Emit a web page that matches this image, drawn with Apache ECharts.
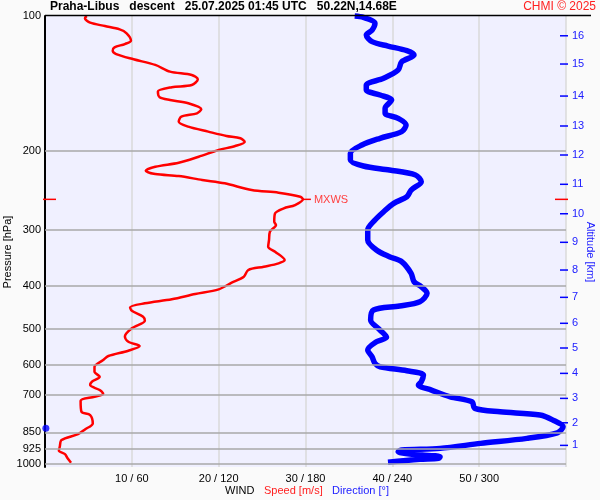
<!DOCTYPE html>
<html>
<head>
<meta charset="utf-8">
<script src="https://cdn.jsdelivr.net/npm/echarts@6/dist/echarts.min.js"></script>
<style>html,body{margin:0;padding:0;background:#fafafa;}#c{width:600px;height:500px;}</style>
</head>
<body>
<div id="c"></div>
<script>
// ---- data ----
const pressureLevels = [100, 200, 300, 400, 500, 600, 700, 850, 925, 1000];
const speedTicks = [10, 20, 30, 40, 50];
const altKm = [1, 2, 3, 4, 5, 6, 7, 8, 9, 10, 11, 12, 13, 14, 15, 16];
const altPressure = [908.7, 809.1, 713.7, 627.6, 550.9, 485.2, 424.6, 369.0, 320.0, 276.3, 237.5, 204.3, 176.0, 150.9, 128.0, 110.7];

const speedPressure = [100,101.2,103.5,105.3,107.1,109.3,113.5,115.5,117.5,119.5,
121.6,124.9,128.6,133.1,135.4,138.4,142.6,144.2,147.5,151.8,
154.0,156.6,161.5,164.9,167.8,172.2,176.6,181.2,185.3,187.5,
191.1,195.1,199.1,206.1,212.6,217.0,221.5,225.3,227.6,232.3,
236.3,244.6,248.0,253.2,256.6,264.2,268.7,275.7,287.9,292.8,
303.0,316.2,327.3,335.9,350.5,356.5,362.8,369.0,381.9,393.9,
407.5,417.4,428.9,437.9,446.9,454.8,469.1,478.8,497.9,519.8,
533.4,545.2,558.6,574.0,586.1,606.7,622.5,638.7,655.3,666.5,
683.9,698.1,707.9,722.6,764.6,777.7,811.6,837.0,857.5,884.3,
915.3,934.3,950.3,971.1,993.3];
const speed = [4.8,4.6,5.2,6.9,8.6,9.4,9.9,9.2,8.0,7.8,
8.2,10.2,12.7,14.4,16.9,17.6,16.9,14.6,13.0,13.2,
14.4,16.5,18.0,17.5,15.7,15.4,16.5,18.8,20.9,22.5,
23.0,21.9,20.0,17.7,15.4,12.7,11.6,12.7,15.4,18.1,
20.7,23.8,26.9,29.4,29.7,28.8,27.5,26.5,26.4,26.6,
25.9,25.8,25.7,26.5,27.6,26.9,25.2,23.4,22.9,21.5,
20.0,17.3,14.6,11.5,9.8,10.0,11.3,11.5,10.0,9.2,
9.6,10.9,9.6,7.3,6.7,5.7,5.7,6.3,5.4,5.2,
6.3,6.7,5.7,4.1,4.2,5.2,5.5,4.6,3.8,1.9,
1.7,1.6,2.3,2.6,3.0];

const dirPressure = [100,100.7,103.8,107.5,110.3,114.1,116.7,119.5,122.2,126.5,
132.0,137.7,142.6,146.3,150.1,154.0,160.7,164.9,169.2,175.1,
181.2,187.5,194.1,202.5,209.6,216.2,220.7,226.4,234.3,244.6,
253.2,261.9,273.4,285.4,300.4,316.2,332.9,344.6,353.6,375.3,
391.9,402.1,415.9,434.3,444.0,453.2,477.1,502.3,521.4,533.4,
556.6,576.3,596.2,606.7,619.3,633.1,655.3,666.5,683.9,707.9,
726.3,751.4,764.6,777.7,798.0,825.9,851.7,876.6,899.4,922.8,
930.6,938.7,950.3,963.2,971.1,976.1,991.3];
const direction = [214,220,228,226,222,226,237,250,255,246.5,
244,234,222,222,231.5,239.5,235,235,244,249.5,
246.5,231.5,219,211,211,220,238,256,260,253,
250,241,234,228,223,223,229,238,246.5,253,
255,260,264,259,245,227,225,231.5,236,229,
223,226,228,231.5,250,261.5,260,258,267,280,
295,297,314.5,342,351,358,354,333,301,273,
246.5,244,252,273,272,259,237];

const markerPoint = [0.1, 832]; // blue dot at left edge [speed, hPa]

// ---- build ----
const FONT = 'Liberation Sans, Arial, sans-serif';
const speedData = speed.map((s, i) => [s, speedPressure[i]]);
const dirData = direction.map((d, i) => [d, dirPressure[i]]);
let mi = 0;
speed.forEach((s, i) => { if (s > speed[mi]) mi = i; });
const maxWind = [[speed[mi], speedPressure[mi]]];

const chart = echarts.init(document.getElementById('c'), null, {renderer: 'canvas'});
chart.setOption({
  animation: false,
  backgroundColor: '#fafafa',
  title: [{
    text: 'Praha-Libus   descent   25.07.2025 01:45 UTC   50.22N,14.68E',
    left: 50, top: 1, padding: 0,
    textStyle: {fontFamily: FONT, fontSize: 12, fontWeight: 'bold', color: '#000'}
  }, {
    text: 'CHMI © 2025', right: 4, top: 1, padding: 0,
    textStyle: {fontFamily: FONT, fontSize: 12, fontWeight: 'normal', color: '#ff2020'}
  }],
  grid: {left: 45, right: 34, top: 16, bottom: 33, show: true, backgroundColor: '#f0f0ff', borderWidth: 0,
    containLabel: false, outerBoundsMode: 'none'},
  xAxis: [{
    type: 'value', min: 0, max: 60, interval: 10,
    axisLine: {show: false}, axisTick: {show: false},
    splitLine: {show: true, lineStyle: {color: '#dadada', width: 1.5}},
    axisLabel: {fontFamily: FONT, fontSize: 11, color: '#000', margin: 6,
      formatter: v => speedTicks.indexOf(v) >= 0 ? v + ' / ' + v * 6 : ''}
  }, {
    type: 'value', min: 0, max: 360, show: false
  }],
  yAxis: [{
    type: 'log', logBase: 10, min: 100, max: 1015.5, inverse: true,
    axisLine: {show: true, lineStyle: {color: '#000', width: 2}},
    axisTick: {show: false}, axisLabel: {show: false}, splitLine: {show: false}
  }],
  graphic: [
    {type: 'line', shape: {x1: 45, y1: 15.5, x2: 591, y2: 15.5}, style: {stroke: '#000', lineWidth: 1.5}, z: 100},
    {type: 'text', x: 8, y: 252, rotation: Math.PI / 2,
      style: {text: 'Pressure [hPa]', fill: '#000', font: '11px ' + FONT, textAlign: 'center', textVerticalAlign: 'middle'}},
    {type: 'text', x: 590, y: 252, rotation: -Math.PI / 2,
      style: {text: 'Altitude [km]', fill: '#2020ff', font: '11px ' + FONT, textAlign: 'center', textVerticalAlign: 'middle'}},
    {type: 'text', x: 225, y: 491, style: {text: 'WIND', fill: '#000', font: '11px ' + FONT, textVerticalAlign: 'middle'}},
    {type: 'text', x: 264, y: 491, style: {text: 'Speed [m/s]', fill: '#ff2020', font: '11px ' + FONT, textVerticalAlign: 'middle'}},
    {type: 'text', x: 332, y: 491, style: {text: 'Direction [°]', fill: '#2020ff', font: '11px ' + FONT, textVerticalAlign: 'middle'}}
  ],
  series: [
    {
      type: 'line', data: [], z: 1, silent: true,
      markLine: {
        silent: true, symbol: ['none', 'none'], animation: false,
        data: pressureLevels.map(p => ({
          yAxis: p,
          lineStyle: {color: p === 100 ? 'rgba(0,0,0,0)' : '#a8a8a8', width: 1.5, type: 'solid'},
          label: {show: true, position: 'start', formatter: String(p), color: '#000', fontSize: 11, fontFamily: FONT, distance: 4}
        }))
      }
    },
    {
      type: 'custom', z: 5, silent: true,
      data: altKm.map((k, i) => [60, altPressure[i], k]),
      encode: {x: 0, y: 1},
      renderItem: (params, api) => {
        const pt = api.coord([60, api.value(1)]);
        return {type: 'group', children: [
          {type: 'line', shape: {x1: pt[0] - 6, y1: pt[1], x2: pt[0] + 2, y2: pt[1]}, style: {stroke: '#0000ff', lineWidth: 1.5}},
          {type: 'text', x: pt[0] + 6, y: pt[1], style: {text: String(api.value(2)), fill: '#2020ff', font: '11px ' + FONT, textVerticalAlign: 'middle'}}
        ]};
      }
    },
    {
      type: 'line', data: speedData, xAxisIndex: 0, showSymbol: false, z: 3, smooth: 0.3,
      lineStyle: {color: '#ff0000', width: 2.5}, clip: false
    },
    {
      type: 'line', data: dirData, xAxisIndex: 1, showSymbol: false, z: 4, smooth: 0.3,
      lineStyle: {color: '#0000ff', width: 5.5, join: 'round'}, clip: false
    },
    {
      type: 'custom', z: 5, silent: true, data: maxWind, encode: {x: 0, y: 1},
      renderItem: (params, api) => {
        const p = api.value(1);
        const c = api.coord([api.value(0), p]);
        const l = api.coord([0, p]);
        const r = api.coord([60, p]);
        return {type: 'group', children: [
          {type: 'line', shape: {x1: l[0] - 2, y1: c[1], x2: l[0] + 11, y2: c[1]}, style: {stroke: '#ff0000', lineWidth: 1.5}},
          {type: 'line', shape: {x1: r[0] - 11, y1: c[1], x2: r[0] + 2, y2: c[1]}, style: {stroke: '#ff0000', lineWidth: 1.5}},
          {type: 'line', shape: {x1: c[0], y1: c[1], x2: c[0] + 8, y2: c[1]}, style: {stroke: '#ff0000', lineWidth: 1.5}},
          {type: 'text', x: c[0] + 11, y: c[1] + 1, style: {text: 'MXWS', fill: '#ff4040', font: '11px ' + FONT, textVerticalAlign: 'middle'}}
        ]};
      }
    },
    {
      type: 'scatter', data: [markerPoint], symbolSize: 7, clip: false, z: 6,
      itemStyle: {color: '#0000ff'}
    }
  ]
});
</script>
</body>
</html>
